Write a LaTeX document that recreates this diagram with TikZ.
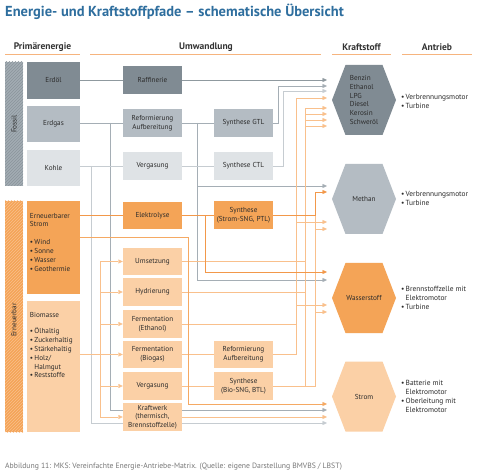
\documentclass[tikz,border=0pt]{standalone}
\usepackage{fontspec}
\setmainfont{PT Sans}
\usetikzlibrary{arrows.meta,patterns,calc}
\pgfdeclarelayer{bg}
\pgfsetlayers{bg,main}
\definecolor{titleblue}{HTML}{2E6E9E}
\definecolor{hdr}{HTML}{333333}
\definecolor{uline}{HTML}{F6B47E}
\definecolor{gA}{HTML}{808B93}
\definecolor{gB}{HTML}{B4BCC3}
\definecolor{gC}{HTML}{DFE3E6}
\definecolor{oA}{HTML}{F4A457}
\definecolor{oB}{HTML}{FBD0A6}
\definecolor{lgA}{HTML}{8F999F}
\definecolor{lgB}{HTML}{A5AEB5}
\definecolor{lgC}{HTML}{C6CCD1}
\definecolor{loA}{HTML}{F2984A}
\definecolor{loM}{HTML}{F5A963}
\definecolor{loB}{HTML}{F9C08C}
\definecolor{stripg}{HTML}{A3ACB3}
\definecolor{stripgl}{HTML}{8A949B}
\definecolor{txt}{HTML}{2B2B2B}
\definecolor{capc}{HTML}{777777}
\newcommand\myboxfont{\fontsize{7.2}{8.8}\selectfont}
\newcommand\mybul{\makebox[4.5pt][l]{\textbullet}}
\tikzset{
  cbox/.style={rectangle, inner sep=0pt, minimum width=59pt, minimum height=28pt,
    align=center, font=\myboxfont, text=txt},
  pbox/.style={rectangle, inner sep=0pt, minimum width=53pt,
    align=center, font=\myboxfont, text=txt},
  hexa/.style={rectangle, inner sep=0pt, minimum width=64pt, minimum height=70pt,
    align=left, font=\fontsize{7.2}{8.8}\selectfont, text=txt,
    path picture={\fill[#1] (path picture bounding box.west)
      -- ([xshift=13.5pt]path picture bounding box.north west)
      -- ([xshift=-13.5pt]path picture bounding box.north east)
      -- (path picture bounding box.east)
      -- ([xshift=-13.5pt]path picture bounding box.south east)
      -- ([xshift=13.5pt]path picture bounding box.south west) -- cycle;}},
  ant/.style={anchor=west, inner sep=0pt, align=left,
    font=\fontsize{7.4}{9}\selectfont, text=txt},
  hdrtxt/.style={inner sep=0pt, font=\fontsize{9.5}{11}\selectfont\bfseries, text=hdr},
  strip/.style={rectangle, inner sep=0pt, minimum width=18pt},
  uln/.style={draw=uline, line width=1pt},
  arr/.style={-{Triangle[length=4.5pt,width=4pt]}},
}
\begin{document}
\begin{tikzpicture}[x=1pt,y=-1pt,line width=0.8pt]
\useasboundingbox (0,0) rectangle (480,476);
\begin{pgfonlayer}{bg}
\fill[white] (0,0) rectangle (480,476);
\end{pgfonlayer}

% title and headers
\node[anchor=west, inner sep=0pt, font=\fontsize{14.5}{16}\selectfont\bfseries, text=titleblue] (title) at (5,12)
  {Energie- und Kraftstoffpfade – schematische Übersicht};
\node[hdrtxt] (h1) at (42.5,47) {Primärenergie};
\node[hdrtxt] (h2) at (206,47) {Umwandlung};
\node[hdrtxt] (h3) at (361.5,47) {Kraftstoff};
\node[hdrtxt] (h4) at (437,47) {Antrieb};
\draw[uln] (5,55) -- (80,55);
\draw[uln] (90,55) -- (321,55);
\draw[uln] (332,55) -- (391,55);
\draw[uln] (402,55) -- (472,55);

% strips
\node[strip, minimum height=124pt, preaction={fill=stripg}, pattern=north east lines, pattern color=stripgl] (fossil) at (14,124) {};
\node[rotate=90, inner sep=0pt, font=\fontsize{7.2}{8}\selectfont, text=txt] (fossiltxt) at (fossil) {Fossil};
\node[strip, minimum height=231pt, preaction={fill=oA}, pattern=north east lines, pattern color=loB] (erneu) at (14,316.5) {};
\node[rotate=90, inner sep=0pt, font=\fontsize{7.2}{8}\selectfont, text=txt] (erneutxt) at (14,320) {Erneuerbar};

% primary energy
\node[pbox, fill=gA, minimum height=37pt] (erdoel) at (53.5,80.5) {Erdöl};
\node[pbox, fill=gB, minimum height=36pt] (erdgas) at (53.5,124) {Erdgas};
\node[pbox, fill=gC, minimum height=36pt] (kohle) at (53.5,168) {Kohle};
\node[pbox, fill=oA, minimum height=93pt] (estrom) at (53.5,247.5) {};
\node[pbox, fill=oB, minimum height=131pt] (bio) at (53.5,366.5) {};
\node[anchor=north west, inner sep=0pt, align=left, font=\myboxfont, text=txt] (estromtxt)
  at ([xshift=3pt,yshift=-12pt]estrom.north west)
  {Erneuerbarer\\Strom\\[9pt]\mybul Wind\\\mybul Sonne\\\mybul Wasser\\\mybul Geothermie};
\node[anchor=north west, inner sep=0pt, align=left, font=\myboxfont, text=txt] (biotxt)
  at ([xshift=3pt,yshift=-11pt]bio.north west)
  {Biomasse\\[8pt]\mybul Ölhaltig\\\mybul Zuckerhaltig\\\mybul Stärkehaltig\\\mybul Holz/\\\hspace*{4.5pt}Halmgut\\\mybul Reststoffe};

% conversion column 1
\node[cbox, fill=gA] (raf) at (152.5,80) {Raffinerie};
\node[cbox, fill=gB] (ref) at (152.5,123) {Reformierung\\Aufbereitung};
\node[cbox, fill=gC] (verg1) at (152.5,166) {Vergasung};
\node[cbox, fill=oA, minimum height=27pt] (elek) at (152.5,215.5) {Elektrolyse};
\node[cbox, fill=oB, minimum height=27pt] (ums) at (152.5,261.5) {Umsetzung};
\node[cbox, fill=oB] (hyd) at (152.5,292) {Hydrierung};
\node[cbox, fill=oB] (fermE) at (152.5,324) {Fermentation\\(Ethanol)};
\node[cbox, fill=oB, minimum height=27pt] (fermB) at (152.5,354.5) {Fermentation\\(Biogas)};
\node[cbox, fill=oB] (verg2) at (152.5,386) {Vergasung};
\node[cbox, fill=oB, font=\fontsize{7.2}{8.4}\selectfont] (kw) at (152.5,417) {Kraftwerk\\(thermisch,\\Brennstoffzelle)};

% conversion column 2
\node[cbox, fill=gB] (gtl) at (243.5,123) {Synthese GTL};
\node[cbox, fill=gC] (ctl) at (243.5,166) {Synthese CTL};
\node[cbox, fill=oA] (syn1) at (243.5,215.5) {Synthese\\(Strom-SNG, PTL)};
\node[cbox, fill=oB, minimum height=27pt] (ref2) at (243.5,354.5) {Reformierung\\Aufbereitung};
\node[cbox, fill=oB] (syn2) at (243.5,386) {Synthese\\(Bio-SNG, BTL)};

% fuels
\node[hexa=gA] (benzin) at (364,100) {Benzin\\Ethanol\\LPG\\Diesel\\Kerosin\\Schweröl};
\node[hexa=gB] (methan) at (364,199) {Methan};
\node[hexa=oA] (wasser) at (364,298) {Wasserstoff};
\node[hexa=oB] (strom) at (364,396.5) {Strom};

% drives
\node[ant] (a1) at (401,101.5) {\mybul Verbrennungsmotor\\\mybul Turbine};
\node[ant] (a2) at (401,198.5) {\mybul Verbrennungsmotor\\\mybul Turbine};
\node[ant] (a3) at (401,298) {\mybul Brennstoffzelle mit\\\hspace*{4.5pt}Elektromotor\\\mybul Turbine};
\node[ant] (a4) at (401,396) {\mybul Batterie mit\\\hspace*{4.5pt}Elektromotor\\\mybul Oberleitung mit\\\hspace*{4.5pt}Elektromotor};

% caption
\node[anchor=west, inner sep=0pt, font=\fontsize{7.7}{9}\selectfont, text=capc] (caption) at (5,467)
  {Abbildung 11: MKS: Vereinfachte Energie-Antriebe-Matrix. (Quelle: eigene Darstellung BMVBS / LBST)};

% bus x positions and arrow targets
\coordinate (xkohle) at (91,0);
\coordinate (xbio) at (100,0);
\coordinate (xgas) at (110,0);
\coordinate (xdir) at (188,237);
\coordinate (xref) at (197,0);
\coordinate (xel) at (205,0);
\coordinate (xgtl) at (278,0);
\coordinate (xctl) at (283,0);
\coordinate (xA) at (296,0);
\coordinate (xB) at (305,0);
\coordinate (xC) at (315,0);
\coordinate (bz1) at (327,80);
\coordinate (bz2) at (327,86);
\coordinate (bz3) at (327,91);
\coordinate (bz4) at (327,98);
\coordinate (bz5) at (327,108);
\coordinate (bz6) at (327,114);
\coordinate (bz7) at (327,120);
\coordinate (bz8) at (327,126);
\coordinate (me1) at (327,186);
\coordinate (me2) at (327,192);
\coordinate (me3) at (327,222);
\coordinate (me4) at (327,229);
\coordinate (wa1) at (327,272);
\coordinate (wa2) at (327,280);
\coordinate (wa3) at (327,305);
\coordinate (wa4) at (327,312);
\coordinate (st1) at (327,404);
\coordinate (st2) at (327,410);
\coordinate (st3) at (327,417);
\coordinate (st4) at (327,423);

\begin{pgfonlayer}{bg}
% fossil: oil
\draw[lgA] (raf.west -| erdoel.east) -- (raf.west);
\draw[lgA,arr] (raf.east) -- (bz1);
% fossil: gas
\draw[lgB] (ref.west -| erdgas.east) -- (ref.west);
\draw[lgB] (ref.east) -- (gtl.west);
\draw[lgB,arr] (gtl.east) -| (xgtl |- bz2) -- (bz2);
\draw[lgB,arr] (ref.west -| xgas) |- (st2);
\draw[lgB,arr] (ref.east -| xref) |- (wa2);
\draw[lgB,arr] (me1 -| xref) -- (me1);
% fossil: coal
\draw[lgC] (verg1.west -| kohle.east) -- (verg1.west);
\draw[lgC] (verg1.east) -- (ctl.west);
\draw[lgC,arr] (ctl.east) -| (xctl |- bz3) -- (bz3);
\draw[lgC,arr] (verg1.west -| xkohle) |- (st4);
% biomass
\draw[loB] (ums.west -| xbio) -- (kw.west -| xbio);
\foreach \n in {ums,hyd,fermE,verg2,kw} \draw[loB,arr] (\n.west -| xbio) -- (\n.west);
\draw[loB,arr] (fermB.west -| bio.east) -- (fermB.west);
\draw[loB] (ums.east) -- (ums.east -| xB);
\draw[loB] (hyd.east) -- (hyd.east -| xB);
\draw[loB] (fermE.east) -- (fermE.east -| xA);
\draw[loB] (fermB.east) -- (ref2.west);
\draw[loB] (verg2.east) -- (syn2.west);
\draw[loB,arr] (ref2.east) -| (xA |- bz4) -- (bz4);
\draw[loB,arr] (me3 -| xA) -- (me3);
\draw[loB,arr] (wa3 -| xA) -- (wa3);
\draw[loB] (syn2.east) -- (syn2.east -| xC) -- (me2 -| xC);
\draw[loB] (syn2.east -| xB) -- (bz5 -| xB);
\foreach \b in {bz5,bz6,bz7,bz8} \draw[loB,arr] (\b -| xB) -- (\b);
\draw[loB,arr] (me4 -| xC) -- (me4);
\draw[loB,arr] (wa4 -| xC) -- (wa4);
\draw[loB,arr] (st3 -| kw.east) -- (st3);
% renewable electricity
\draw[loM,arr] (xdir -| estrom.east) -- (xdir) |- (st1);
\draw[loA] (elek.west -| estrom.east) -- (elek.west);
\draw[loA] (elek.east) -- (syn1.west);
\draw[loA,arr] (elek.east -| xel) |- (wa1);
\draw[loA,arr] (syn1.east) -| (xC |- me2) -- (me2);
\end{pgfonlayer}
\end{tikzpicture}
\end{document}
